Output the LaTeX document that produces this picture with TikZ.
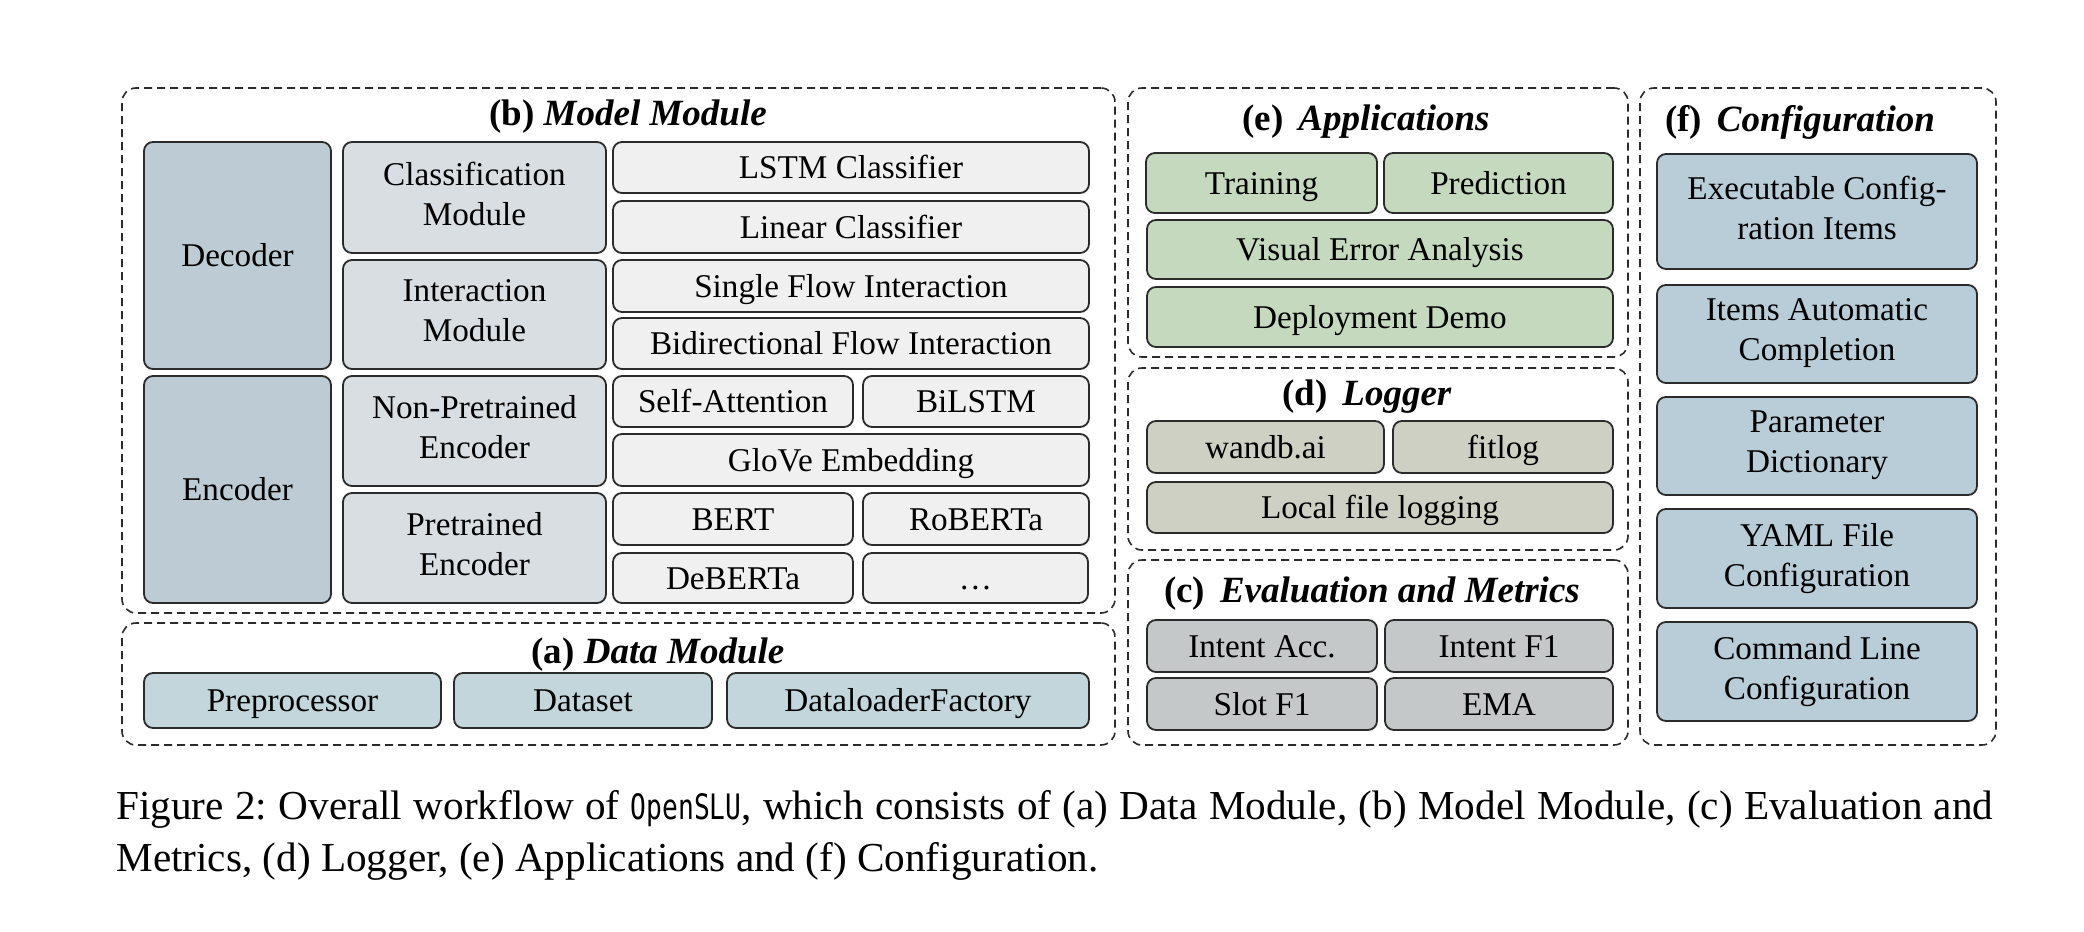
\documentclass[tikz,border=0pt]{standalone}
\usepackage{fontspec}
\setmainfont{Liberation Serif}
\newfontfamily\capmono{DejaVu Sans Mono}[Scale=0.85,FakeStretch=0.75]
\definecolor{cDark}{HTML}{BDCBD4}
\definecolor{cMid}{HTML}{D9DEE2}
\definecolor{cLight}{HTML}{F0F0F0}
\definecolor{cData}{HTML}{C2D6DB}
\definecolor{cApp}{HTML}{C4D9BD}
\definecolor{cLog}{HTML}{CDD0C3}
\definecolor{cEval}{HTML}{C4C8C8}
\definecolor{cConf}{HTML}{B8CDD8}
\definecolor{cLine}{HTML}{2B2B2B}
\newcommand\bxstrut{\rule[-4pt]{0pt}{19pt}}
\tikzset{
  box/.style={draw=cLine, line width=0.9pt, rounded corners=4.5pt, inner sep=0pt, align=center,
    font=\fontsize{16.6}{20}\selectfont,
    execute at begin node=\bxstrut, execute at end node=\bxstrut},
  group/.style={draw=cLine, line width=0.8pt, dash pattern=on 4pt off 2.5pt, rounded corners=7pt, inner sep=0pt},
  ttl/.style={font=\fontsize{18.5}{22}\selectfont\bfseries, inner sep=0pt, anchor=base},
  captxt/.style={font=\fontsize{20.6}{26}\selectfont\frenchspacing, inner sep=0pt, anchor=base west}
}
\newcommand\bx[7]{\node[box, fill=#2, minimum width={(#5-#3)*0.5pt}, minimum height={(#6-#4)*0.5pt}] (#1) at ({(#3+#5)/2},{(#4+#6)/2}) {#7};}
\newcommand\grp[5]{\node[group, minimum width={(#4-#2)*0.5pt}, minimum height={(#5-#3)*0.5pt}] (#1) at ({(#2+#4)/2},{(#3+#5)/2}) {};}
\begin{document}
\begin{tikzpicture}[x=0.5pt,y=-0.5pt]
\fill[white] (0,0) rectangle (2084,932);
\useasboundingbox (0,0) rectangle (2084,932);
% groups
\grp{gb}{122}{88}{1115}{613}
\grp{ga}{122}{623}{1115}{745}
\grp{ge}{1128}{88}{1628}{357}
\grp{gd}{1128}{368}{1628}{550}
\grp{gc}{1128}{560}{1628}{745}
\grp{gf}{1640}{88}{1996}{745}
% titles
\node[ttl] (tb) at (628,125) {(b) \textit{Model Module}};
\node[ttl] (ta) at (658,663) {(a) \textit{Data Module}};
\node[ttl] (te) at (1366,130) {(e)\hspace{0.4em}\textit{Applications}};
\node[ttl] (td) at (1367,405) {(d)\hspace{0.4em}\textit{Logger}};
\node[ttl] (tc) at (1372,602) {(c)\hspace{0.4em}\textit{Evaluation and Metrics}};
\node[ttl] (tf) at (1800,131) {(f)\hspace{0.4em}\textit{Configuration}};
% model module
\bx{dec}{cDark}{144}{142}{331}{369}{Decoder}
\bx{enc}{cDark}{144}{376}{331}{603}{Encoder}
\bx{cls}{cMid}{343}{142}{606}{253}{Classification\\Module}
\bx{inter}{cMid}{343}{260}{606}{369}{Interaction\\Module}
\bx{npe}{cMid}{343}{376}{606}{486}{Non-Pretrained\\Encoder}
\bx{pe}{cMid}{343}{493}{606}{603}{Pretrained\\Encoder}
\bx{lstm}{cLight}{613}{142}{1089}{193}{LSTM Classifier}
\bx{lin}{cLight}{613}{201}{1089}{253}{Linear Classifier}
\bx{sfi}{cLight}{613}{260}{1089}{312}{Single Flow Interaction}
\bx{bfi}{cLight}{613}{318}{1089}{369}{Bidirectional Flow Interaction}
\bx{sa}{cLight}{613}{376}{853}{427}{Self-Attention}
\bx{bilstm}{cLight}{863}{376}{1089}{427}{BiLSTM}
\bx{glove}{cLight}{613}{434}{1089}{486}{GloVe Embedding}
\bx{bert}{cLight}{613}{493}{853}{545}{BERT}
\bx{roberta}{cLight}{863}{493}{1089}{545}{RoBERTa}
\bx{deberta}{cLight}{613}{553}{853}{603}{DeBERTa}
\bx{more}{cLight}{863}{553}{1088}{603}{\dots}
% data module
\bx{pre}{cData}{144}{673}{441}{728}{Preprocessor}
\bx{ds}{cData}{454}{673}{712}{728}{Dataset}
\bx{dlf}{cData}{727}{673}{1089}{728}{DataloaderFactory}
% applications
\bx{train}{cApp}{1146}{153}{1377}{213}{Training}
\bx{pred}{cApp}{1384}{153}{1613}{213}{Prediction}
\bx{vea}{cApp}{1147}{220}{1613}{279}{Visual Error Analysis}
\bx{dd}{cApp}{1147}{287}{1613}{347}{Deployment Demo}
% logger
\bx{wandb}{cLog}{1147}{421}{1384}{473}{wandb.ai}
\bx{fitlog}{cLog}{1393}{421}{1613}{473}{fitlog}
\bx{lfl}{cLog}{1147}{482}{1613}{533}{Local file logging}
% evaluation
\bx{ia}{cEval}{1147}{620}{1377}{672}{Intent Acc.}
\bx{if}{cEval}{1385}{620}{1613}{672}{Intent F1}
\bx{sf}{cEval}{1147}{678}{1377}{730}{Slot F1}
\bx{ema}{cEval}{1385}{678}{1613}{730}{EMA}
% configuration
\bx{exec}{cConf}{1657}{154}{1977}{269}{Executable Config-\\ration Items}
\bx{iac}{cConf}{1657}{285}{1977}{383}{Items Automatic\\Completion}
\bx{pd}{cConf}{1657}{397}{1977}{495}{Parameter\\Dictionary}
\bx{yaml}{cConf}{1657}{509}{1977}{608}{YAML File\\Configuration}
\bx{cmd}{cConf}{1657}{622}{1977}{721}{Command Line\\Configuration}
% caption
\node[captxt] (cap1) at (116,819) {\hbox to 938.5pt{Figure 2: Overall workflow of {\capmono OpenSLU}, which consists of (a) Data Module, (b) Model Module, (c) Evaluation and}};
\node[captxt] (cap2) at (116,871) {Metrics, (d) Logger, (e) Applications and (f) Configuration.};
\end{tikzpicture}
\end{document}
